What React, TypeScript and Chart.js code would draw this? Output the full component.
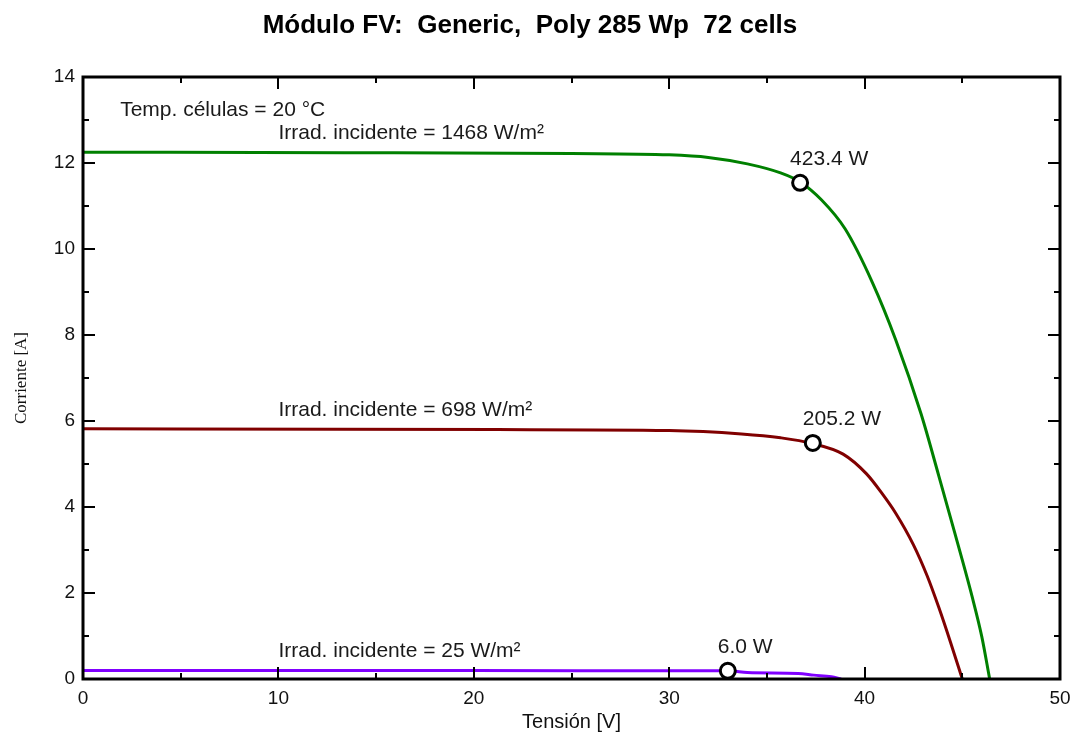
import React, { useEffect, useRef } from "react";
import { Chart, registerables } from "chart.js";

Chart.register(...registerables);

const titleText = "Módulo FV:  Generic,  Poly 285 Wp  72 cells";
const xTitle = "Tensión [V]";
const yTitle = "Corriente [A]";
const tempLabel = "Temp. células = 20 °C";

// Curve at 1468 W/m²
const greenV = [0, 13.4, 25, 30, 32, 34.0, 35.7, 36.7, 37.8, 39.0, 40.4, 41.6, 42.9, 43.8, 44.6, 45.5, 46.0, 46.4];
const greenI = [12.25, 12.24, 12.22, 12.19, 12.13, 11.98, 11.77, 11.56, 11.14, 10.47, 9.22, 7.88, 6.15, 4.72, 3.42, 1.92, 0.98, 0];
// Curve at 698 W/m²
const redV = [0, 21.2, 30, 33.7, 35.7, 37.3, 38.9, 40.1, 40.9, 41.6, 42.5, 43.2, 43.8, 44.4, 45.0];
const redI = [5.82, 5.8, 5.78, 5.7, 5.61, 5.48, 5.23, 4.77, 4.31, 3.85, 3.12, 2.4, 1.66, 0.85, 0];
// Curve at 25 W/m²
const purpleV = [0, 20, 33.1, 34.0, 36.6, 37.4, 38.3, 38.8];
const purpleI = [0.2, 0.195, 0.19, 0.15, 0.13, 0.09, 0.05, 0];

// Maximum power points
const mppV = [36.7, 37.35, 33.0];
const mppI = [11.54, 5.49, 0.19];
const mppLabels = ["423.4 W", "205.2 W", "6.0 W"];

// Irradiance annotations (x, y in data units)
const irradLabels = ["Irrad. incidente = 1468 W/m²", "Irrad. incidente = 698 W/m²", "Irrad. incidente = 25 W/m²"];
const irradX = [10, 10, 10];
const irradY = [12.7, 6.26, 0.64];
const tempX = 1.9;
const tempY = 13.23;

const xMin = 0, xMax = 50, xMajor = 10, xMinor = 5;
const yMin = 0, yMax = 14, yMajor = 2, yMinor = 1;

const FONT = "'Liberation Sans', Arial, sans-serif";

const pts = (xs: number[], ys: number[]) => xs.map((x, i) => ({ x, y: ys[i] }));

const framePlugin = {
  id: "frameTicks",
  afterDatasetsDraw(chart: any) {
    const { ctx, chartArea: a, scales } = chart;
    const xs = scales.x, ys = scales.y;
    ctx.save();
    ctx.strokeStyle = "#000";
    ctx.lineWidth = 2;
    ctx.beginPath();
    for (let v = xMin; v <= xMax + 1e-9; v += xMinor) {
      const px = Math.round(xs.getPixelForValue(v));
      const len = Math.abs(v % xMajor) < 1e-9 ? 12 : 6;
      ctx.moveTo(px, a.bottom);
      ctx.lineTo(px, a.bottom - len);
      ctx.moveTo(px, a.top);
      ctx.lineTo(px, a.top + len);
    }
    for (let v = yMin; v <= yMax + 1e-9; v += yMinor) {
      const py = Math.round(ys.getPixelForValue(v));
      const len = Math.abs(v % yMajor) < 1e-9 ? 12 : 6;
      ctx.moveTo(a.left, py);
      ctx.lineTo(a.left + len, py);
      ctx.moveTo(a.right, py);
      ctx.lineTo(a.right - len, py);
    }
    ctx.stroke();
    ctx.lineWidth = 3;
    ctx.strokeRect(a.left, a.top, a.right - a.left, a.bottom - a.top);
    ctx.restore();
  },
  afterDraw(chart: any) {
    const { ctx, scales } = chart;
    const xs = scales.x, ys = scales.y;
    ctx.save();
    ctx.fillStyle = "#1a1a1a";
    ctx.textBaseline = "middle";
    ctx.textAlign = "left";
    ctx.font = `21px ${FONT}`;
    ctx.fillText(tempLabel, xs.getPixelForValue(tempX), ys.getPixelForValue(tempY));
    irradLabels.forEach((t, i) => {
      ctx.fillText(t, xs.getPixelForValue(irradX[i]), ys.getPixelForValue(irradY[i]));
    });
    mppLabels.forEach((t, i) => {
      ctx.fillText(t, xs.getPixelForValue(mppV[i]) - 10, ys.getPixelForValue(mppI[i]) - 24);
    });
    ctx.restore();
  },
};

export default function App() {
  const ref = useRef<HTMLCanvasElement | null>(null);
  useEffect(() => {
    if (!ref.current) return;
    const chart = new Chart(ref.current, {
      type: "scatter",
      data: {
        datasets: [
          {
            label: "MPP",
            data: pts(mppV, mppI),
            showLine: false,
            pointRadius: 7.5,
            pointBorderWidth: 3,
            pointBackgroundColor: "#fff",
            pointBorderColor: "#000",
            order: 0,
          },
          {
            label: "1468",
            data: pts(greenV, greenI),
            showLine: true,
            borderColor: "#008000",
            borderWidth: 3,
            pointRadius: 0,
            cubicInterpolationMode: "monotone",
            order: 1,
          },
          {
            label: "698",
            data: pts(redV, redI),
            showLine: true,
            borderColor: "#800000",
            borderWidth: 3,
            pointRadius: 0,
            cubicInterpolationMode: "monotone",
            order: 1,
          },
          {
            label: "25",
            data: pts(purpleV, purpleI),
            showLine: true,
            borderColor: "#8000ff",
            borderWidth: 3,
            pointRadius: 0,
            cubicInterpolationMode: "monotone",
            order: 1,
          },
        ],
      },
      options: {
        responsive: false,
        animation: false,
        devicePixelRatio: 1,
        layout: { padding: { left: 0, right: 13, top: 0, bottom: 0 } },
        plugins: {
          legend: { display: false },
          tooltip: { enabled: false },
          title: {
            display: true,
            text: titleText,
            color: "#000",
            font: { family: FONT, size: 26, weight: "bold", lineHeight: 1.2 },
            padding: { top: 10, bottom: 35.8 },
          },
        },
        scales: {
          x: {
            type: "linear",
            min: xMin,
            max: xMax,
            ticks: { stepSize: xMajor, color: "#111", font: { family: FONT, size: 19 }, padding: 8, maxRotation: 0 },
            grid: { display: false, drawTicks: false },
            border: { display: false },
            title: { display: true, text: xTitle, color: "#111", font: { family: FONT, size: 20, lineHeight: 1.2 }, padding: { top: 0, bottom: -1 } },
            afterFit: (s: any) => { s.height = 54; s.paddingLeft = 0; s.paddingRight = 0; },
          },
          y: {
            type: "linear",
            min: yMin,
            max: yMax,
            ticks: { stepSize: yMajor, color: "#111", font: { family: FONT, size: 19 }, padding: 8 },
            grid: { display: false, drawTicks: false },
            border: { display: false },
            title: { display: true, text: yTitle, color: "#111", font: { family: "'Liberation Serif', 'Times New Roman', serif", size: 17, lineHeight: 1.2 }, padding: { top: 11, bottom: 0 } },
            afterFit: (s: any) => { s.width = 83; s.paddingTop = 0; s.paddingBottom = 0; },
          },
        },
      } as any,
      plugins: [framePlugin],
    });
    return () => chart.destroy();
  }, []);
  return (
    <div style={{ position: "absolute", left: 0, top: 0, width: 1073, height: 733, background: "#fff" }}>
      <canvas ref={ref} width={1073} height={733} style={{ display: "block" }} />
    </div>
  );
}
